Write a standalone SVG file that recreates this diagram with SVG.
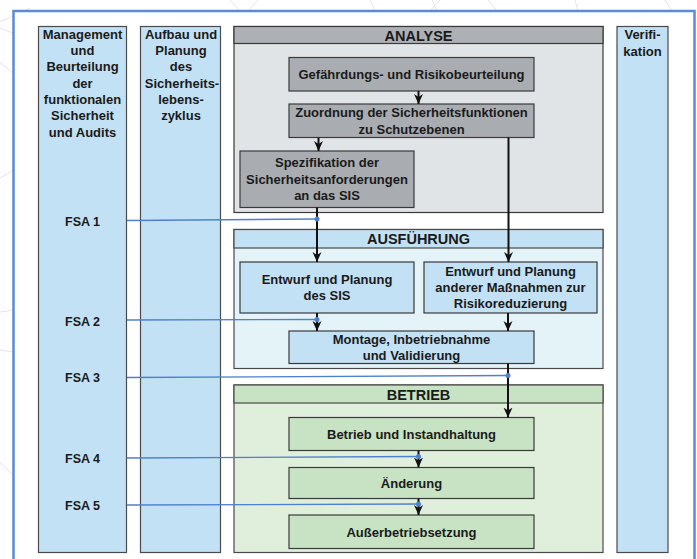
<svg xmlns="http://www.w3.org/2000/svg" width="697" height="559" viewBox="0 0 697 559">
<defs>
<style>
text{font-family:"Liberation Sans",Arial,sans-serif;font-weight:bold;fill:#1a1a1a;text-anchor:middle}
.t13{font-size:13px}
.t12{font-size:12.5px}
.h{font-size:14.5px}
.col{fill:#c3e1f5;stroke:#4a4a4a;stroke-width:1.2}
.box{stroke:#3a3a3a;stroke-width:1.2}
.gray{fill:#a9adb2}
.blue{fill:#c3e1f5}
.green{fill:#c8e3c3}
.bg{stroke:#e4e4e4;stroke-width:1;fill:none}
.flow{stroke:#111;stroke-width:2;fill:none;marker-end:url(#arr)}
.fsa{stroke:#4f7fcf;stroke-width:1.3;fill:none}
.dot{fill:#4f7fcf}
</style>
<marker id="arr" markerUnits="userSpaceOnUse" markerWidth="10" markerHeight="10" viewBox="0 0 10 10" refX="10" refY="5" orient="auto">
<path d="M0,0.5 L10,5 L0,9.5 L3,5 z" fill="#111"/>
</marker>
</defs>
<rect width="697" height="559" fill="#fff"/>
<g id="background">
<path class="bg" d="M0,22 L30,8 M0,28 L30,40 M0,62 L30,88 M0,178 L14,170 M0,312 L14,310 M0,350 L14,352 M0,462 L14,476 M230,0 L240,11 M258,0 L248,11 M370,0 L375,11 M432,0 L437,11 M440,0 L430,11 M488,0 L497,11 M575,0 L578,11 M665,0 L672,11"/>
</g>
<rect id="frame" x="13.5" y="11" width="681" height="600" fill="#fff" stroke="#5a8bd5" stroke-width="2.5"/>

<g id="col-management">
<rect class="col" x="38.5" y="26.5" width="88" height="526"/>
<text class="t13" x="82.5" y="38.5">Management</text>
<text class="t13" x="82.5" y="55">und</text>
<text class="t13" x="82.5" y="71.3">Beurteilung</text>
<text class="t13" x="82.5" y="87.7">der</text>
<text class="t13" x="82.5" y="104">funktionalen</text>
<text class="t13" x="82.5" y="120.4">Sicherheit</text>
<text class="t13" x="82.5" y="136.8">und Audits</text>
<text class="t12" x="82.5" y="225.5">FSA 1</text>
<text class="t12" x="82.5" y="325.5">FSA 2</text>
<text class="t12" x="82.5" y="381.5">FSA 3</text>
<text class="t12" x="82.5" y="462.5">FSA 4</text>
<text class="t12" x="82.5" y="510">FSA 5</text>
</g>

<g id="col-planung">
<rect class="col" x="140.5" y="26.5" width="80" height="526"/>
<text class="t13" x="181" y="38.5">Aufbau und</text>
<text class="t13" x="181" y="55">Planung</text>
<text class="t13" x="181" y="71.3">des</text>
<text class="t13" x="182" y="87.7">Sicherheits-</text>
<text class="t13" x="181" y="104">lebens-</text>
<text class="t13" x="181" y="120.4">zyklus</text>
</g>

<g id="col-verifikation">
<rect class="col" x="617" y="26.5" width="51" height="526"/>
<text class="t13" x="642.5" y="39">Verifi-</text>
<text class="t13" x="642.5" y="55.5">kation</text>
</g>

<g id="analyse">
<rect x="234" y="26.5" width="369" height="186" fill="#e1e4e6" stroke="#3a3a3a" stroke-width="1.2"/>
<rect x="234" y="26.5" width="369" height="17" fill="#adb1b6" stroke="#3a3a3a" stroke-width="1.2"/>
<text class="h" x="418.5" y="40.5">ANALYSE</text>
</g>

<g id="ausfuehrung">
<rect x="234" y="229.5" width="369" height="139" fill="#e3f3f8" stroke="#4a4a4a" stroke-width="1.2"/>
<rect x="234" y="229.5" width="369" height="18.5" fill="#c3e1f5" stroke="#4a4a4a" stroke-width="1.2"/>
<text class="h" x="418.5" y="244">AUSFÜHRUNG</text>
</g>

<g id="betrieb">
<rect x="234" y="385" width="369" height="167.5" fill="#e0eedc" stroke="#4a4a4a" stroke-width="1.2"/>
<rect x="234" y="385" width="369" height="18" fill="#c8e3c3" stroke="#4a4a4a" stroke-width="1.2"/>
<text class="h" x="418.5" y="399.5">BETRIEB</text>
</g>

<g id="n-gefaehrdung">
<rect class="box gray" x="289" y="57.5" width="245" height="33.5"/>
<text class="t13" x="411.5" y="79">Gefährdungs- und Risikobeurteilung</text>
</g>
<g id="n-zuordnung">
<rect class="box gray" x="289" y="104" width="245" height="33.5"/>
<text class="t13" x="411.5" y="117">Zuordnung der Sicherheitsfunktionen</text>
<text class="t13" x="411.5" y="133.5">zu Schutzebenen</text>
</g>
<g id="n-spezifikation">
<rect class="box gray" x="240" y="151" width="174" height="56.5"/>
<text class="t13" x="327" y="167">Spezifikation der</text>
<text class="t13" x="327" y="183.5">Sicherheitsanforderungen</text>
<text class="t13" x="327" y="200">an das SIS</text>
</g>
<g id="n-entwurf-sis">
<rect class="box blue" x="240" y="262" width="174" height="51"/>
<text class="t13" x="327" y="283.5">Entwurf und Planung</text>
<text class="t13" x="327" y="300">des SIS</text>
</g>
<g id="n-entwurf-andere">
<rect class="box blue" x="424" y="262" width="173" height="51"/>
<text class="t13" x="510.5" y="275.5">Entwurf und Planung</text>
<text class="t13" x="510.5" y="291.8">anderer Maßnahmen zur</text>
<text class="t13" x="510.5" y="308">Risikoreduzierung</text>
</g>
<g id="n-montage">
<rect class="box blue" x="289" y="331" width="245" height="32.5"/>
<text class="t13" x="411.5" y="343.5">Montage, Inbetriebnahme</text>
<text class="t13" x="411.5" y="359.5">und Validierung</text>
</g>
<g id="n-instandhaltung">
<rect class="box green" x="289" y="417.5" width="245" height="33"/>
<text class="t13" x="411.5" y="439">Betrieb und Instandhaltung</text>
</g>
<g id="n-aenderung">
<rect class="box green" x="289" y="467.5" width="245" height="31"/>
<text class="t13" x="411.5" y="487.5">Änderung</text>
</g>
<g id="n-ausser">
<rect class="box green" x="289" y="515" width="245" height="33.5"/>
<text class="t13" x="411.5" y="536.5">Außerbetriebsetzung</text>
</g>

<g id="connectors">
<line class="flow" x1="418.5" y1="91" x2="418.5" y2="104"/>
<line class="flow" x1="318.5" y1="137.5" x2="318.5" y2="151"/>
<line class="flow" x1="317" y1="207.5" x2="317" y2="262"/>
<line class="flow" x1="508.5" y1="137.5" x2="508.5" y2="262"/>
<line class="flow" x1="317" y1="313" x2="317" y2="331"/>
<line class="flow" x1="508" y1="313" x2="508" y2="331"/>
<line class="flow" x1="508" y1="363.5" x2="508" y2="417.5"/>
<line class="flow" x1="418.5" y1="450.5" x2="418.5" y2="467.5"/>
<line class="flow" x1="418.5" y1="498.5" x2="418.5" y2="515"/>
<line class="fsa" x1="127" y1="220.5" x2="317" y2="219"/>
<line class="fsa" x1="127" y1="320" x2="317" y2="319.5"/>
<line class="fsa" x1="127" y1="377.5" x2="508" y2="375.5"/>
<line class="fsa" x1="127" y1="458" x2="418.5" y2="456.5"/>
<line class="fsa" x1="127" y1="505" x2="418.5" y2="504"/>
<circle class="dot" cx="317" cy="219" r="2.5"/>
<circle class="dot" cx="317" cy="319.5" r="2.5"/>
<circle class="dot" cx="508" cy="375.5" r="2.5"/>
<circle class="dot" cx="418.5" cy="456.5" r="2.5"/>
<circle class="dot" cx="418.5" cy="504" r="2.5"/>
</g>
</svg>
